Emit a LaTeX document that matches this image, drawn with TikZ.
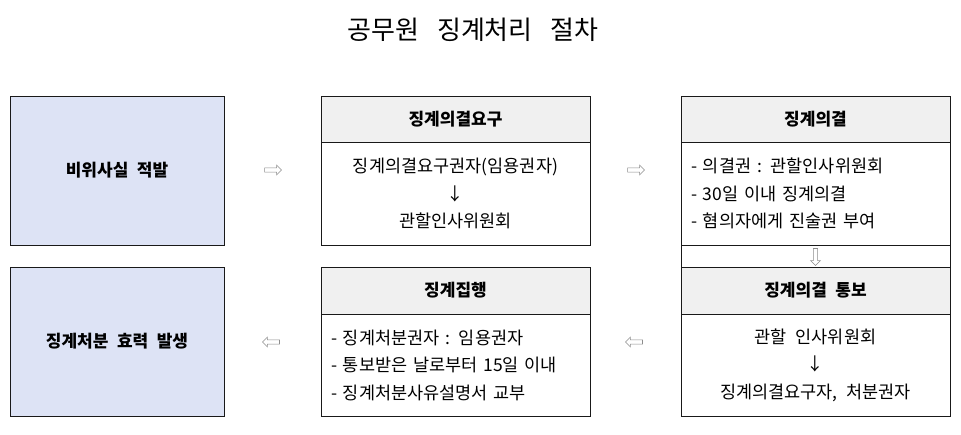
\documentclass[tikz,border=0pt]{standalone}
\usepackage{fontspec}
\setmainfont{Noto Sans CJK KR}
\usetikzlibrary{shapes.arrows}
\definecolor{boxblue}{RGB}{221,227,245}
\definecolor{headgray}{RGB}{240,240,240}
\definecolor{linecol}{RGB}{25,25,25}
\definecolor{arrowgray}{RGB}{140,140,140}
\newcommand\krbody{\fontsize{17.5}{27.5}\selectfont\spaceskip=0.5em\relax}
\newcommand\krhead{\fontsize{17}{27}\selectfont\spaceskip=0.5em\relax}
\newcommand\krtitle{\fontsize{26}{30}\selectfont\spaceskip=0.7em\relax}
\begin{document}
\begin{tikzpicture}[x=1pt,y=-1pt,
  every node/.style={inner sep=0pt, outer sep=0pt},
  framebox/.style={draw=linecol, line width=0.8pt, rectangle},
  sidebox/.style={framebox, fill=boxblue, minimum width=214pt, minimum height=149pt, font=\krhead\bfseries},
  headbox/.style={framebox, fill=headgray, minimum width=269pt, minimum height=46pt, font=\krhead\bfseries},
  bodybox/.style={framebox, fill=white, minimum width=269pt, minimum height=102pt, font=\krbody},
  listbox/.style={bodybox, align=left, text width=249pt, inner xsep=10pt},
  centerbox/.style={bodybox, align=center},
  hollow/.style={single arrow, draw=arrowgray, fill=white, line width=0.6pt,
    minimum height=17pt, inner sep=1.8pt, single arrow head extend=2.8pt}
]
\useasboundingbox (0,0) rectangle (961,435);
\node[font=\krtitle] (title) at (473,30) {공무원 징계처리 절차};

% left column
\node[sidebox] (a) at (117,170.5) {비위사실 적발};
\node[sidebox] (f) at (117,341.5) {징계처분 효력 발생};

% middle column
\node[headbox] (h1) at (455.5,119) {징계의결요구};
\node[centerbox, minimum height=103pt] (b1) at (455.5,193.5) {징계의결요구권자(임용권자)\\↓\\관할인사위원회};
\node[headbox, minimum height=47pt] (h4) at (455.5,290.5) {징계집행};
\node[listbox] (b4) at (455.5,365) {- 징계처분권자 : 임용권자\\- 통보받은 날로부터 15일 이내\\- 징계처분사유설명서 교부};

% right column
\node[headbox] (h2) at (815.5,119) {징계의결};
\node[listbox, minimum height=103pt] (b2) at (815.5,193.5) {- 의결권 : 관할인사위원회\\- 30일 이내 징계의결\\- 혐의자에게 진술권 부여};
\node[framebox, fill=white, minimum width=269pt, minimum height=22pt] (s) at (815.5,256) {};
\node[headbox, minimum height=47pt] (h3) at (815.5,290.5) {징계의결 통보};
\node[centerbox] (b3) at (815.5,365) {관할 인사위원회\\↓\\징계의결요구자, 처분권자};

% hollow arrows
\node[hollow] (r1) at (272,170) {};
\node[hollow] (r2) at (635,170) {};
\node[hollow, shape border rotate=270] (d1) at (815.5,256) {};
\node[hollow, shape border rotate=180] (l1) at (635,342) {};
\node[hollow, shape border rotate=180] (l2) at (272,342) {};
\end{tikzpicture}
\end{document}
